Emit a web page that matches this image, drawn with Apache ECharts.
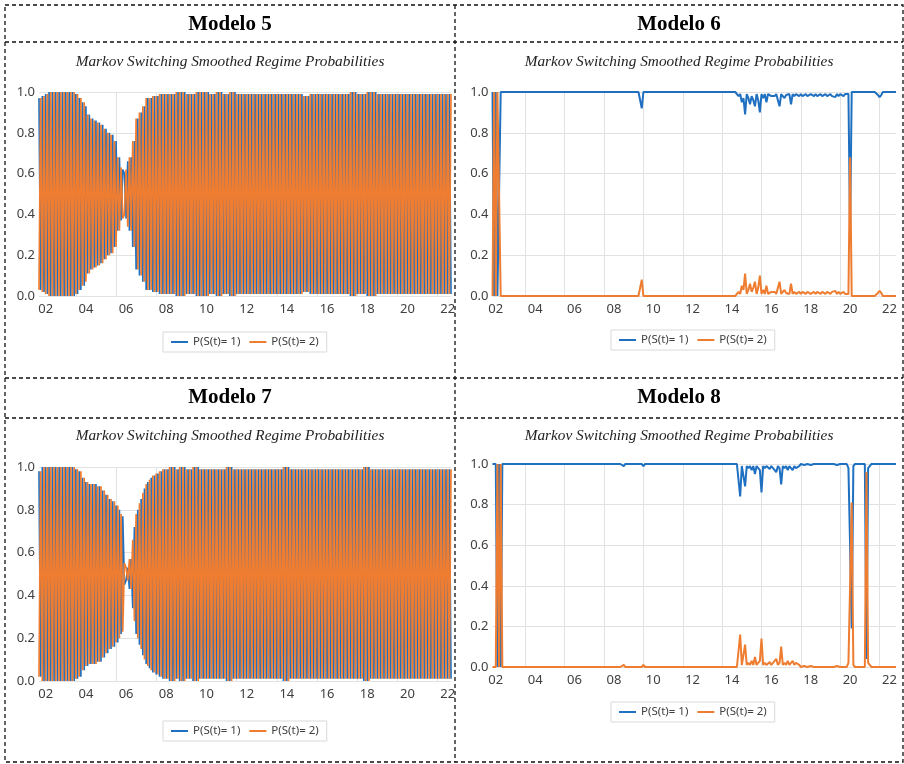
<!DOCTYPE html>
<html><head><meta charset="utf-8">
<script src="https://cdn.jsdelivr.net/npm/echarts@6/dist/echarts.min.js"></script>
<style>html,body{margin:0;padding:0;background:#fff}#c{width:904px;height:764px}</style>
</head><body><div id="c"></div>
<script>
// ---------- data ----------
const N_OBS = 247;
const LEFT_START = [2002, 3];   // Modelo 5 & 7 sample start (monthly)
const RIGHT_START = [2002, 5];  // Modelo 6 & 8 sample start (monthly)
const seriesNames = ['P(S(t)= 1)', 'P(S(t)= 2)'];
const panelTitles = ['Modelo 5', 'Modelo 6', 'Modelo 7', 'Modelo 8'];
const subTitle = 'Markov Switching Smoothed Regime Probabilities';
const yTickValues = [0.0, 0.2, 0.4, 0.6, 0.8, 1.0];

const m5_p1 = [
.97,.03,.98,.02,.99,.01,1,0,1,0,
1,0,1,0,1,0,1,0,1,0,
1,0,.99,.01,.97,.03,.95,.05,.93,.11,
.89,.13,.87,.14,.86,.15,.85,.16,.84,.18,
.82,.20,.80,.21,.79,.24,.76,.32,.68,.37,
.62,.60,.38,.66,.32,.68,.24,.76,.13,.87,
.10,.90,.07,.93,.03,.97,.03,.97,.02,.98,
.02,.98,.01,.99,.01,.99,.01,.99,.01,.99,
.01,.99,0,1,0,1,0,1,.01,.99,
.01,.99,.01,.99,0,1,0,1,0,1,
0,1,.01,.99,.01,.99,0,1,0,1,
.01,.99,.01,.99,0,1,0,1,.01,.99,
.01,.99,.01,.99,.01,.99,.01,.99,.01,.99,
.01,.99,.01,.99,.01,.99,.01,.99,.01,.99,
.01,.99,.01,.99,.01,.99,.01,.99,.01,.99,
.01,.99,.01,.99,.01,.99,.01,.99,.02,.98,
.02,.98,.01,.99,.01,.99,.01,.99,.01,.99,
.01,.99,.01,.99,.01,.99,.01,.99,.01,.99,
.01,.99,.01,.99,.01,.99,0,1,0,1,
.01,.99,.01,.99,.01,.99,0,1,0,1,
0,1,.01,.99,.01,.99,.01,.99,.01,.99,
.01,.99,.01,.99,.01,.99,.01,.99,.01,.99,
.01,.99,.01,.99,.01,.99,.01,.99,.01,.99,
.01,.99,.01,.99,.01,.99,.01,.99,.01,.99,
.01,.99,.01,.99,.01,.99,.01];
const m5_p2 = [
.03,.97,.02,.98,.01,.99,0,1,0,1,
0,1,0,1,0,1,0,1,0,1,
0,1,.01,.99,.03,.97,.05,.95,.07,.89,
.11,.87,.13,.86,.14,.85,.15,.84,.16,.82,
.18,.80,.20,.79,.21,.76,.24,.68,.32,.63,
.38,.40,.62,.34,.68,.32,.76,.24,.87,.13,
.90,.10,.93,.07,.97,.03,.97,.03,.98,.02,
.98,.02,.99,.01,.99,.01,.99,.01,.99,.01,
.99,.01,1,0,1,0,1,0,.99,.01,
.99,.01,.99,.01,1,0,1,0,1,0,
1,0,.99,.01,.99,.01,1,0,1,0,
.99,.01,.99,.01,1,0,1,0,.99,.01,
.99,.01,.99,.01,.99,.01,.99,.01,.99,.01,
.99,.01,.99,.01,.99,.01,.99,.01,.99,.01,
.99,.01,.99,.01,.99,.01,.99,.01,.99,.01,
.99,.01,.99,.01,.99,.01,.99,.01,.98,.02,
.98,.02,.99,.01,.99,.01,.99,.01,.99,.01,
.99,.01,.99,.01,.99,.01,.99,.01,.99,.01,
.99,.01,.99,.01,.99,.01,1,0,1,0,
.99,.01,.99,.01,.99,.01,1,0,1,0,
1,0,.99,.01,.99,.01,.99,.01,.99,.01,
.99,.01,.99,.01,.99,.01,.99,.01,.99,.01,
.99,.01,.99,.01,.99,.01,.99,.01,.99,.01,
.99,.01,.99,.01,.99,.01,.99,.01,.99,.01,
.99,.01,.99,.01,.99,.01,.99];

const m7_p1 = [
.98,.02,1,0,1,0,1,0,1,0,
1,0,1,0,1,0,1,0,1,0,
1,0,.99,.01,.98,.02,.95,.05,.93,.07,
.92,.08,.92,.08,.92,.09,.91,.09,.89,.11,
.87,.13,.85,.15,.84,.16,.82,.18,.80,.22,
.77,.45,.47,.53,.43,.57,.34,.72,.22,.80,
.17,.85,.12,.90,.08,.93,.06,.95,.04,.96,
.03,.97,.02,.98,.01,.99,.01,.99,0,1,
0,1,.01,.99,0,1,0,1,.01,.99,
.01,.99,0,1,0,1,.01,.99,.01,.99,
.01,.99,.01,.99,.01,.99,.01,.99,.01,.99,
.01,.99,0,1,0,1,.01,.99,.01,.99,
.01,.99,.01,.99,.01,.99,.01,.99,.01,.99,
.01,.99,.01,.99,.01,.99,.01,.99,.01,.99,
.01,.99,.01,.99,.01,.99,0,1,0,1,
.01,.99,.01,.99,.01,.99,.01,.99,.01,.99,
.01,.99,.01,.99,.01,.99,.01,.99,.01,.99,
.01,.99,.01,.99,.01,.99,.01,.99,.01,.99,
.01,.99,.01,.99,.01,.99,.01,.99,.01,.99,
.01,.99,.01,.99,0,1,0,1,.01,.99,
.01,.99,.01,.99,.01,.99,.01,.99,.01,.99,
.01,.99,.01,.99,.01,.99,.01,.99,.01,.99,
.01,.99,.01,.99,.01,.99,.01,.99,.01,.99,
.01,.99,.01,.99,.01,.99,.01,.99,.01,.99,
.01,.99,.01,.99,.01,.99,.01];
const m7_p2 = [
.02,.98,0,1,0,1,0,1,0,1,
0,1,0,1,0,1,0,1,0,1,
0,1,.01,.99,.02,.98,.05,.95,.07,.93,
.08,.92,.08,.92,.08,.91,.09,.91,.11,.89,
.13,.87,.15,.85,.16,.84,.18,.82,.20,.78,
.23,.55,.53,.47,.57,.43,.66,.28,.78,.20,
.83,.15,.88,.10,.92,.07,.94,.05,.96,.04,
.97,.03,.98,.02,.99,.01,.99,.01,1,0,
1,0,.99,.01,1,0,1,0,.99,.01,
.99,.01,1,0,1,0,.99,.01,.99,.01,
.99,.01,.99,.01,.99,.01,.99,.01,.99,.01,
.99,.01,1,0,1,0,.99,.01,.99,.01,
.99,.01,.99,.01,.99,.01,.99,.01,.99,.01,
.99,.01,.99,.01,.99,.01,.99,.01,.99,.01,
.99,.01,.99,.01,.99,.01,1,0,1,0,
.99,.01,.99,.01,.99,.01,.99,.01,.99,.01,
.99,.01,.99,.01,.99,.01,.99,.01,.99,.01,
.99,.01,.99,.01,.99,.01,.99,.01,.99,.01,
.99,.01,.99,.01,.99,.01,.99,.01,.99,.01,
.99,.01,.99,.01,1,0,1,0,.99,.01,
.99,.01,.99,.01,.99,.01,.99,.01,.99,.01,
.99,.01,.99,.01,.99,.01,.99,.01,.99,.01,
.99,.01,.99,.01,.99,.01,.99,.01,.99,.01,
.99,.01,.99,.01,.99,.01,.99,.01,.99,.01,
.99,.01,.99,.01,.99,.01,.99];

const m6_p1 = [
1,0,1,0,0,1,1,1,1,1,
1,1,1,1,1,1,1,1,1,1,
1,1,1,1,1,1,1,1,1,1,
1,1,1,1,1,1,1,1,1,1,
1,1,1,1,1,1,1,1,1,1,
1,1,1,1,1,1,1,1,1,1,
1,1,1,1,1,1,1,1,1,1,
1,1,1,1,1,1,1,1,1,1,
1,1,1,1,1,1,1,1,1,1,
1,.92,1,1,1,1,1,1,1,1,
1,1,1,1,1,1,1,1,1,1,
1,1,1,1,1,1,1,1,1,1,
1,1,1,1,1,1,1,1,1,1,
1,1,1,1,1,1,1,1,1,1,
1,1,1,1,1,1,1,1,1,1,
.98,.99,.95,.97,.89,.99,.97,.94,.98,.96,
.93,.99,.96,.90,.99,.97,.99,.95,.99,.985,
.98,.975,.98,.99,.96,.93,.99,.98,.97,.985,
.98,.99,.94,.99,.98,.99,.985,.98,.99,.98,
.985,.99,.98,.975,.99,.985,.98,.99,.98,.985,
.99,.98,.975,.99,.98,.985,.99,.98,.985,.975,
.99,.98,.99,.985,.98,.99,.99,.99,.32,1,
1,1,1,1,1,1,1,1,1,1,
1,1,1,1,1,.985,.975,.985,1,1,
1,1,1,1,1,1,1];
const m6_p2 = [
0,1,0,1,1,0,0,0,0,0,
0,0,0,0,0,0,0,0,0,0,
0,0,0,0,0,0,0,0,0,0,
0,0,0,0,0,0,0,0,0,0,
0,0,0,0,0,0,0,0,0,0,
0,0,0,0,0,0,0,0,0,0,
0,0,0,0,0,0,0,0,0,0,
0,0,0,0,0,0,0,0,0,0,
0,0,0,0,0,0,0,0,0,0,
0,.08,0,0,0,0,0,0,0,0,
0,0,0,0,0,0,0,0,0,0,
0,0,0,0,0,0,0,0,0,0,
0,0,0,0,0,0,0,0,0,0,
0,0,0,0,0,0,0,0,0,0,
0,0,0,0,0,0,0,0,0,0,
.02,.01,.05,.03,.11,.01,.03,.06,.02,.04,
.07,.01,.04,.10,.01,.03,.01,.05,.01,.015,
.02,.025,.02,.01,.04,.07,.01,.02,.03,.015,
.02,.01,.06,.01,.02,.01,.015,.02,.01,.02,
.015,.01,.02,.025,.01,.015,.02,.01,.02,.015,
.01,.02,.025,.01,.02,.015,.01,.02,.015,.025,
.01,.02,.01,.015,.02,.01,.01,.01,.68,0,
0,0,0,0,0,0,0,0,0,0,
0,0,0,0,0,.015,.025,.015,0,0,
0,0,0,0,0,0,0];

const m8_p1 = [
1,1,1,0,1,0,1,1,1,1,
1,1,1,1,1,1,1,1,1,1,
1,1,1,1,1,1,1,1,1,1,
1,1,1,1,1,1,1,1,1,1,
1,1,1,1,1,1,1,1,1,1,
1,1,1,1,1,1,1,1,1,1,
1,1,1,1,1,1,1,1,1,1,
1,1,1,1,1,1,1,1,1,1,
.99,1,1,1,1,1,.995,1,1,1,
1,1,.99,1,1,1,1,1,1,1,
1,1,1,1,1,1,1,1,1,1,
1,1,1,1,1,1,1,1,1,1,
1,1,1,1,1,1,1,1,1,1,
1,1,1,1,1,1,1,1,1,1,
1,1,1,1,1,1,1,1,1,1,
1,.84,.99,.99,.89,.99,.98,.99,.97,.99,
.95,.99,.99,.97,.86,.99,.98,.99,.985,.975,
.99,.98,.98,.96,.99,.98,.90,.99,.98,.99,
.97,.99,.985,.97,.99,.98,.985,.99,1,1,
.995,1,1,1,.995,1,1,1,1,.995,
1,1,1,1,1,.995,1,1,1,1,
.995,1,1,1,1,.995,1,.98,.60,.19,
.99,1,1,1,1,1,1,1,.04,.98,
.99,1,1,1,1,1,1,1,1,1,
1,1,1,1,1,1,1];
const m8_p2 = [
0,0,0,1,0,1,0,0,0,0,
0,0,0,0,0,0,0,0,0,0,
0,0,0,0,0,0,0,0,0,0,
0,0,0,0,0,0,0,0,0,0,
0,0,0,0,0,0,0,0,0,0,
0,0,0,0,0,0,0,0,0,0,
0,0,0,0,0,0,0,0,0,0,
0,0,0,0,0,0,0,0,0,0,
.01,0,0,0,0,0,.005,0,0,0,
0,0,.01,0,0,0,0,0,0,0,
0,0,0,0,0,0,0,0,0,0,
0,0,0,0,0,0,0,0,0,0,
0,0,0,0,0,0,0,0,0,0,
0,0,0,0,0,0,0,0,0,0,
0,0,0,0,0,0,0,0,0,0,
0,.16,.01,.01,.11,.01,.02,.01,.03,.01,
.05,.01,.01,.03,.14,.01,.02,.01,.015,.025,
.01,.02,.02,.04,.01,.02,.10,.01,.02,.01,
.03,.01,.015,.03,.01,.02,.015,.01,0,0,
.005,0,0,0,.005,0,0,0,0,.005,
0,0,0,0,0,.005,0,0,0,0,
.005,0,0,0,0,.005,0,.02,.40,.81,
.01,0,0,0,0,0,0,0,.96,.02,
.01,0,0,0,0,0,0,0,0,0,
0,0,0,0,0,0,0];

// ---------- categories (monthly dates) ----------
function monthCats(start, n) {
  const out = [];
  let y = start[0], m = start[1];
  for (let i = 0; i < n; i++) {
    out.push(y + '-' + String(m).padStart(2, '0'));
    m++; if (m > 12) { m = 1; y++; }
  }
  return out;
}
const catsLeft = monthCats(LEFT_START, N_OBS);
const catsRight = monthCats(RIGHT_START, N_OBS);

// ---------- styling ----------
const BLUE = '#1f70c1', ORANGE = '#ee7d31';
const AXIS_FONT = 'Noto Sans';
const GRID_COLOR = '#e2e2e2';

const panels = [
  { grid: { left: 39, top: 92, width: 412, height: 204 }, cats: catsLeft, p1: m5_p1, p2: m5_p2, lw: 1.7, legend: { left: 163, top: 332 } },
  { grid: { left: 492.5, top: 92, width: 403.5, height: 204 }, cats: catsRight, p1: m6_p1, p2: m6_p2, lw: 2, legend: { left: 611, top: 330 } },
  { grid: { left: 39, top: 467, width: 412, height: 214 }, cats: catsLeft, p1: m7_p1, p2: m7_p2, lw: 1.7, legend: { left: 163, top: 721 } },
  { grid: { left: 492.5, top: 464, width: 403.5, height: 203 }, cats: catsRight, p1: m8_p1, p2: m8_p2, lw: 2, legend: { left: 611, top: 702 } }
];

const isEvenYear = v => (+v.slice(0, 4)) % 2 === 0;

const option = {
  animation: false,
  backgroundColor: '#ffffff',
  grid: panels.map(p => Object.assign({ containLabel: false }, p.grid)),
  xAxis: panels.map((p, i) => ({
    type: 'category', gridIndex: i, data: p.cats, boundaryGap: false,
    axisLine: { show: false }, axisTick: { show: false },
    axisLabel: {
      interval: (idx, v) => v.slice(5) === '07' && isEvenYear(v),
      formatter: v => v.slice(2, 4),
      fontFamily: AXIS_FONT, fontSize: 13, color: '#404040', margin: 7
    },
    splitLine: {
      show: true,
      interval: (idx, v) => v.slice(5) === '01' && isEvenYear(v),
      lineStyle: { color: GRID_COLOR, width: 1 }
    }
  })),
  yAxis: panels.map((p, i) => ({
    type: 'value', gridIndex: i, min: yTickValues[0], max: yTickValues[yTickValues.length - 1], interval: 0.2,
    axisLine: { show: false }, axisTick: { show: false },
    axisLabel: { formatter: v => v.toFixed(1), fontFamily: AXIS_FONT, fontSize: 13, color: '#404040', margin: 4 },
    splitLine: { show: true, lineStyle: { color: GRID_COLOR, width: 1 } }
  })),
  legend: panels.map(p => ({
    left: p.legend.left, top: p.legend.top,
    data: seriesNames, selectedMode: false,
    icon: 'rect', itemWidth: 17, itemHeight: 2, itemGap: 9,
    padding: [4, 8], borderColor: '#d9d9d9', borderWidth: 1,
    textStyle: { fontFamily: AXIS_FONT, fontSize: 11.5, color: '#404040' }
  })),
  series: panels.flatMap((p, i) => [
    { type: 'line', name: seriesNames[0], xAxisIndex: i, yAxisIndex: i, data: p.p1, symbol: 'none', showSymbol: false,
      lineStyle: { color: BLUE, width: p.lw }, itemStyle: { color: BLUE } },
    { type: 'line', name: seriesNames[1], xAxisIndex: i, yAxisIndex: i, data: p.p2, symbol: 'none', showSymbol: false,
      lineStyle: { color: ORANGE, width: p.lw }, itemStyle: { color: ORANGE } }
  ]),
  graphic: (function () {
    const dash = { stroke: '#111', lineWidth: 1.3, lineDash: [4, 3] };
    const els = [];
    els.push({ type: 'rect', shape: { x: 5, y: 5, width: 898, height: 757 }, style: Object.assign({ fill: 'none' }, dash), silent: true });
    els.push({ type: 'line', shape: { x1: 455, y1: 5, x2: 455, y2: 762 }, style: Object.assign({}, dash), silent: true });
    [42, 378, 418].forEach(y => els.push({ type: 'line', shape: { x1: 5, y1: y, x2: 903, y2: y }, style: Object.assign({}, dash), silent: true }));
    const cx = [230, 679, 230, 679];
    const ty = [25, 25, 398, 398];
    const sy = [62, 62, 436, 436];
    panelTitles.forEach((t, i) => {
      els.push({ type: 'text', x: cx[i], y: ty[i], silent: true,
        style: { text: t, font: 'bold 21px "Liberation Serif"', fill: '#000', textAlign: 'center', textVerticalAlign: 'middle', align: 'center', verticalAlign: 'middle' } });
      els.push({ type: 'text', x: cx[i], y: sy[i], silent: true,
        style: { text: subTitle, font: 'italic 15.3px "Liberation Serif"', fill: '#222', textAlign: 'center', textVerticalAlign: 'middle', align: 'center', verticalAlign: 'middle' } });
    });
    return els;
  })()
};

const chart = echarts.init(document.getElementById('c'), null, { renderer: 'canvas' });
chart.setOption(option);
</script>
</body></html>
